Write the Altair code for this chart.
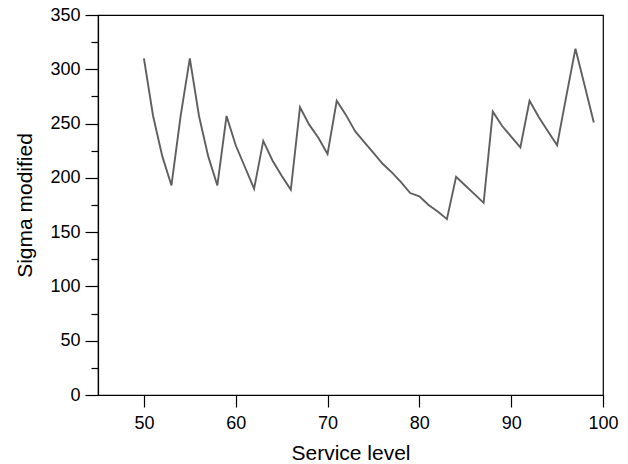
import altair as alt
import pandas as pd

# Service level (%) and the modified sigma at each level
service_level = list(range(50, 100))
sigma_modified = [
    310, 257, 220, 193, 257, 310, 257, 220, 193, 257,
    230, 210, 190, 234, 216, 202, 189, 265, 249, 237,
    222, 271, 258, 243, 233, 223, 213, 205, 196, 186,
    183, 175, 169, 162, 201, 193, 185, 177, 261, 248,
    238, 228, 271, 256, 243, 230, 275, 319, 285, 251,
]

x_ticks = [50, 60, 70, 80, 90, 100]
y_ticks = list(range(0, 351, 25))

df = pd.DataFrame({"service": service_level, "sigma": sigma_modified})

font = "Liberation Sans"

chart = (
    alt.Chart(df)
    .mark_line(color="#5f5f5f", strokeWidth=1.9)
    .encode(
        x=alt.X(
            "service:Q",
            title="Service level",
            scale=alt.Scale(domain=[45, 100], nice=False, zero=False),
            axis=alt.Axis(
                values=x_ticks,
                grid=False,
                tickSize=12,
                labelPadding=7,
                labelFlush=False,
                labelOverlap=False,
                titlePadding=10,
            ),
        ),
        y=alt.Y(
            "sigma:Q",
            title="Sigma modified",
            scale=alt.Scale(domain=[0, 350], nice=False),
            axis=alt.Axis(
                values=y_ticks,
                labelExpr="datum.value % 50 == 0 ? datum.label : ''",
                grid=False,
                tickSize={
                    "condition": {"test": "datum.value % 50 === 0", "value": 13},
                    "value": 7,
                },
                labelPadding=5,
                labelFlush=False,
                labelOverlap=False,
                titlePadding=14,
            ),
        ),
    )
    .properties(
        width=505,
        height=380,
        autosize=alt.AutoSizeParams(type="none"),
        padding={"left": 98, "top": 15, "right": 25, "bottom": 69},
    )
    .configure_view(stroke="black", strokeWidth=1.2)
    .configure_axis(
        domainColor="black",
        tickColor="black",
        domainWidth=1.2,
        tickWidth=1.2,
        labelFont=font,
        titleFont=font,
        labelFontSize=18,
        titleFontSize=21,
        labelColor="black",
        titleColor="black",
        titleFontWeight="normal",
    )
)

chart.save("out.html", embed_options={"renderer": "svg", "actions": False})
